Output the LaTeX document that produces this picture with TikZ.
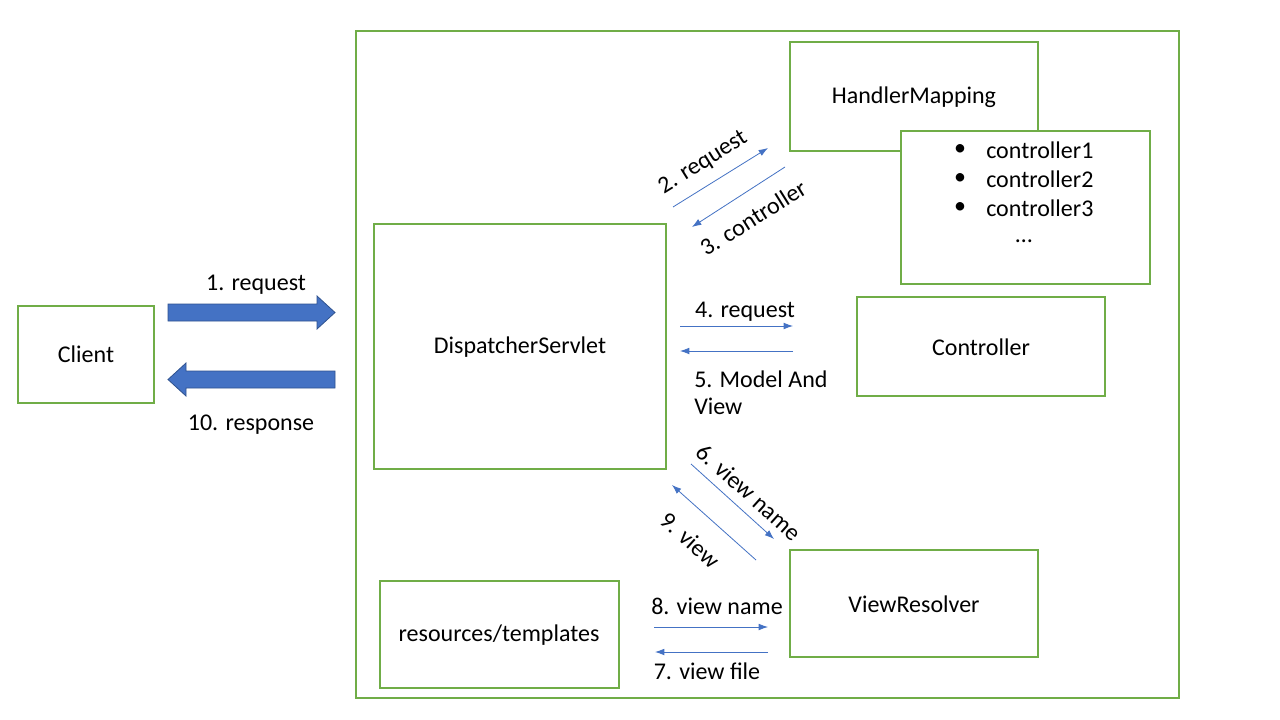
\documentclass[tikz,border=0pt]{standalone}
\usepackage{fontspec}
\setmainfont{Carlito}
\usetikzlibrary{arrows.meta}
\definecolor{grn}{HTML}{70AD47}
\definecolor{blu}{HTML}{4472C4}
\definecolor{bludk}{HTML}{2F528F}
\begin{document}
\begin{tikzpicture}[x=0.75pt,y=-0.75pt,
  box/.style={draw=grn,line width=0.8pt,fill=white},
  lbl/.style={font=\fontsize{18}{22}\selectfont,inner sep=0pt},
  thin/.style={draw=blu,line width=0.6pt,-{Latex[length=7pt,width=5pt]}},
  big/.style={draw=bludk,fill=blu,line width=0.6pt}]
\useasboundingbox (0,0) rectangle (1280,720);
\fill[white] (0,0) rectangle (1280,720);
% outer
\draw[grn,line width=0.8pt] (356,31) rectangle (1179,698);
% boxes
\draw[box] (18,306) rectangle (154,403);
\node[lbl] (client) at (86,354) {Client};
\draw[box] (374,224) rectangle (666,469);
\node[lbl] (ds) at (520,347) {DispatcherServlet};
\draw[box] (790,42) rectangle (1038,151);
\node[lbl] (hm) at (914,97) {HandlerMapping};
\draw[box] (901,131) rectangle (1150,284);
\node[lbl,anchor=west] (c1) at (986,150) {controller1};
\node[lbl,anchor=west] (c2) at (986,179) {controller2};
\node[lbl,anchor=west] (c3) at (986,208) {controller3};
\node[lbl] (b1) at (960,150) {\textbullet};
\node[lbl] (b2) at (960,179) {\textbullet};
\node[lbl] (b3) at (960,208) {\textbullet};
\node[lbl] (dots) at (1024,241) {\ldots};
\draw[box] (857,297) rectangle (1105,396);
\node[lbl] (ctrl) at (981,347) {Controller};
\draw[box] (790,550) rectangle (1038,657);
\node[lbl] (vr) at (914,604) {ViewResolver};
\draw[box] (380,581) rectangle (619,688);
\node[lbl] (rt) at (499,635) {resources/templates};
% big arrows
\draw[big] (168,304) -- (317,304) -- (317,296) -- (335,312.5) -- (317,329) -- (317,321) -- (168,321) -- cycle;
\draw[big] (335,371) -- (186,371) -- (186,363) -- (168,379.5) -- (186,396) -- (186,388) -- (335,388) -- cycle;
\node[lbl] (l1) at (256,285) {1. request};
\node[lbl] (l10) at (251,425) {10. response};
% coordinates for thin arrows
\coordinate (p2s) at (673,207); \coordinate (p2e) at (768,148);
\coordinate (p3s) at (785,167); \coordinate (p3e) at (692,227);
\coordinate (p4s) at (680,326); \coordinate (p4e) at (793,326);
\coordinate (p5s) at (793,351); \coordinate (p5e) at (680,351);
\coordinate (p6s) at (691,464); \coordinate (p6e) at (774,539);
\coordinate (p9s) at (756,560); \coordinate (p9e) at (672,485);
\coordinate (p8s) at (654,627); \coordinate (p8e) at (768,627);
\coordinate (p7s) at (768,652); \coordinate (p7e) at (655,652);
\draw[thin] (p2s) -- (p2e);
\draw[thin] (p3s) -- (p3e);
\draw[thin] (p4s) -- (p4e);
\draw[thin] (p5s) -- (p5e);
\draw[thin] (p6s) -- (p6e);
\draw[thin] (p9s) -- (p9e);
\draw[thin] (p8s) -- (p8e);
\draw[thin] (p7s) -- (p7e);
% labels
\node[lbl,rotate=32] (l2) at (703,163) {2. request};
\node[lbl,rotate=32] (l3) at (753,218) {3. controller};
\node[lbl] (l4) at (745,312) {4. request};
\node[lbl,anchor=west,align=left,font=\fontsize{18}{20}\selectfont] (l5) at (694,393) {5. Model And\\View};
\node[lbl,rotate=-42] (l6) at (749,492) {6. view name};
\node[lbl,rotate=-42] (l9) at (690,540) {9. view};
\node[lbl] (l8) at (717,606) {8. view name};
\node[lbl] (l7) at (707,671) {7. view file};
\end{tikzpicture}
\end{document}
